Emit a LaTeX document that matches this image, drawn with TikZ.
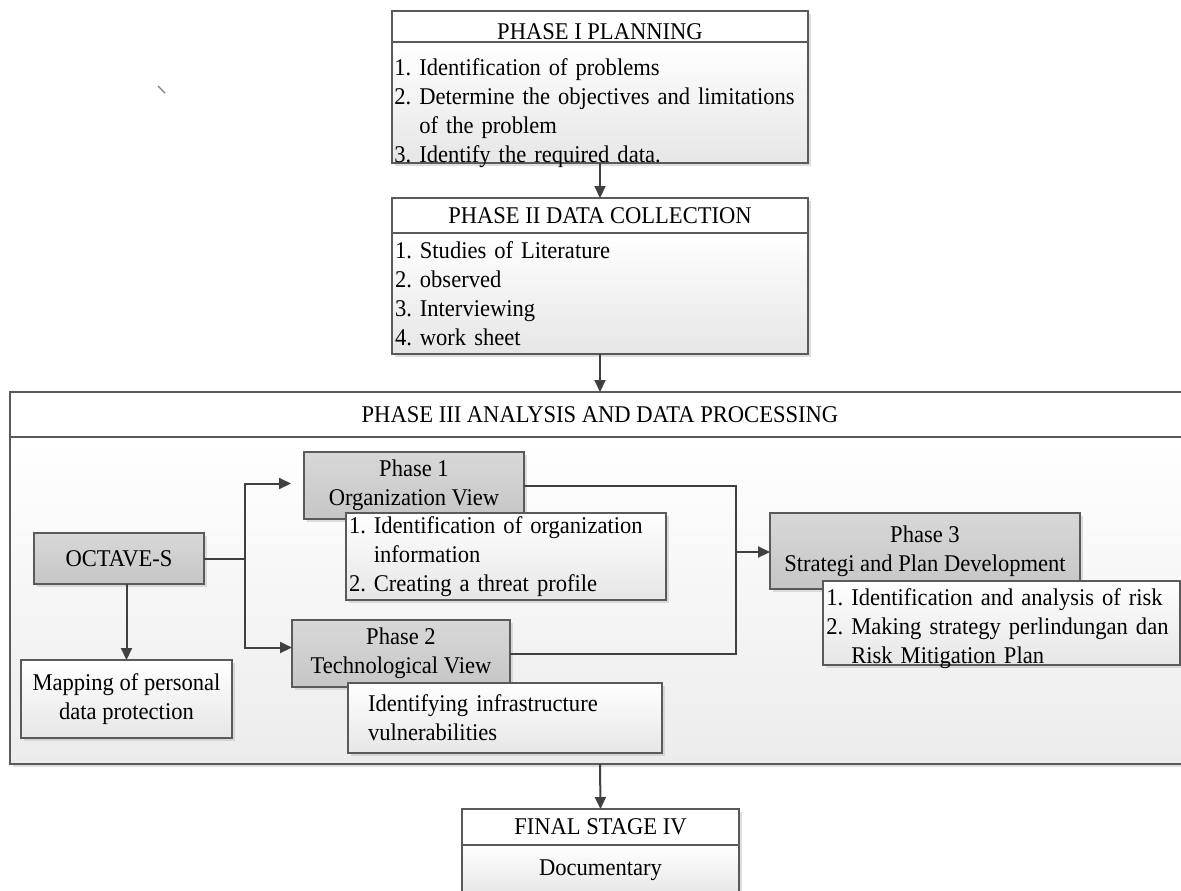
\documentclass[tikz,border=0pt]{standalone}
\usepackage{fontspec}
\setmainfont{Liberation Serif}[FakeStretch=0.94]
\usetikzlibrary{arrows.meta,shadows,calc}
\definecolor{bordc}{HTML}{5A5A5A}
\definecolor{linec}{HTML}{404040}
\definecolor{grayt}{HTML}{D8D8D8}
\definecolor{grayb}{HTML}{C6C6C6}
\definecolor{lightb}{HTML}{E6E6E6}
\definecolor{bigb}{HTML}{ECECEC}
\frenchspacing
\hyphenpenalty=10000
\tikzset{
  box/.style={draw=bordc, line width=0.6pt, inner sep=0pt, outer sep=0pt, anchor=north west,
    font=\fontsize{12}{14.5}\selectfont},
  shad/.style={drop shadow={shadow xshift=1.5pt, shadow yshift=-1.5pt, fill=black!25, opacity=0.5}},
  whitebox/.style={box, shad, top color=white, bottom color=lightb},
  listbox/.style={whitebox, align=left, inner xsep=1.5pt},
  graybox/.style={box, shad, top color=grayt, bottom color=grayb, align=center},
  hdrbox/.style={box, shad, fill=white},
  plaintext/.style={inner sep=0pt, anchor=north west, align=left, font=\fontsize{12}{14.5}\selectfont},
  arr/.style={draw=linec, line width=1pt, -{Triangle[length=6pt,width=5.5pt]}},
  conn/.style={draw=linec, line width=1pt},
}
\begin{document}
\begin{tikzpicture}[x=0.5pt,y=-0.5pt]
\clip (0,0) rectangle (1181,890);
\fill[white] (0,0) rectangle (1181,890);
% stray mark
\draw[gray, line width=0.6pt] (158,86) -- (165,93);

% Phase I
\node[hdrbox, minimum width=208pt, minimum height=15.5pt] (p1h) at (392,11) {};
\node[plaintext, anchor=base] (p1ht) at (600,39.5) {PHASE I PLANNING};
\node[whitebox, minimum width=208pt, minimum height=60.5pt] (p1b) at (392,42) {};
\node[plaintext, text width=204pt] (p1t) at (394,58)
  {1. Identification of problems\\
   2. Determine the objectives and limitations\\
   \phantom{2.}\ of the problem\\
   3. Identify the required data.};

% Phase II
\node[hdrbox, minimum width=208pt, minimum height=17.5pt] (p2h) at (392,198) {PHASE II DATA COLLECTION};
\node[listbox, minimum width=208pt, minimum height=60.5pt, text width=205pt] (p2b) at (392,233)
  {1. Studies of Literature\\
   2. observed\\
   3. Interviewing\\
   4. work sheet};

% Phase III container
\node[hdrbox, minimum width=590pt, minimum height=22.5pt] (p3h) at (10,392) {PHASE III ANALYSIS AND DATA PROCESSING};
\node[box, shad, top color=white, bottom color=bigb, minimum width=590pt, minimum height=163.5pt] (p3b) at (10,437) {};

% inner nodes
\node[graybox, minimum width=85pt, minimum height=25.5pt] (oct) at (34,533) {OCTAVE-S};
\node[graybox, minimum width=110pt, minimum height=33.5pt] (ph1) at (304,452) {Phase 1\\Organization View};
\node[listbox, minimum width=160pt, minimum height=43.5pt, text width=157pt] (ph1s) at (346,513)
  {1. Identification of organization\\
   \phantom{1.}\ information\\
   2. Creating a threat profile};
\node[graybox, minimum width=109pt, minimum height=33.5pt] (ph2) at (292,620) {Phase 2\\Technological View};
\node[whitebox, align=left, inner xsep=10pt, minimum width=157pt, minimum height=35pt, text width=137pt] (ph2s) at (348,683)
  {Identifying infrastructure\\vulnerabilities};
\node[whitebox, align=center, minimum width=105.5pt, minimum height=39pt] (map) at (21,660)
  {Mapping of personal\\data protection};
\node[graybox, minimum width=155pt, minimum height=38pt] (ph3) at (770,513) {Phase 3\\Strategi and Plan Development};
\node[whitebox, minimum width=178.5pt, minimum height=42pt] (ph3s) at (823,581) {};
\node[plaintext, text width=175pt] (ph3t) at (826,588)
  {1. Identification and analysis of risk\\
   2. Making strategy perlindungan dan\\
   \phantom{2.}\ Risk Mitigation Plan};

% Final stage
\node[hdrbox, minimum width=138.5pt, minimum height=18pt] (fh) at (462,809) {FINAL STAGE IV};
\node[whitebox, minimum width=138.5pt, minimum height=25pt] (fb) at (462,845) {Documentary};

% connectors
\draw[arr] (p1b.south) -- (p2h.north);
\draw[arr] (p2b.south) -- (p3h.north);
\draw[arr] (p3b.south) -- (fh.north);

\coordinate (j1) at ([xshift=20.5pt]oct.east);
\draw[conn] (oct.east) -- (j1);
\draw[arr, shorten >=6.5pt] (j1) |- ([yshift=1pt]ph1.west);
\draw[arr] (j1) |- ([yshift=3pt]ph2.west);
\draw[arr] (map.north |- oct.south) -- (map.north);

\coordinate (j2) at (736,552);
\draw[conn] (ph1.east) -| (j2);
\draw[conn] (ph2.east) -| (j2);
\draw[arr] (j2) -- (j2 -| ph3.west);
\end{tikzpicture}
\end{document}
